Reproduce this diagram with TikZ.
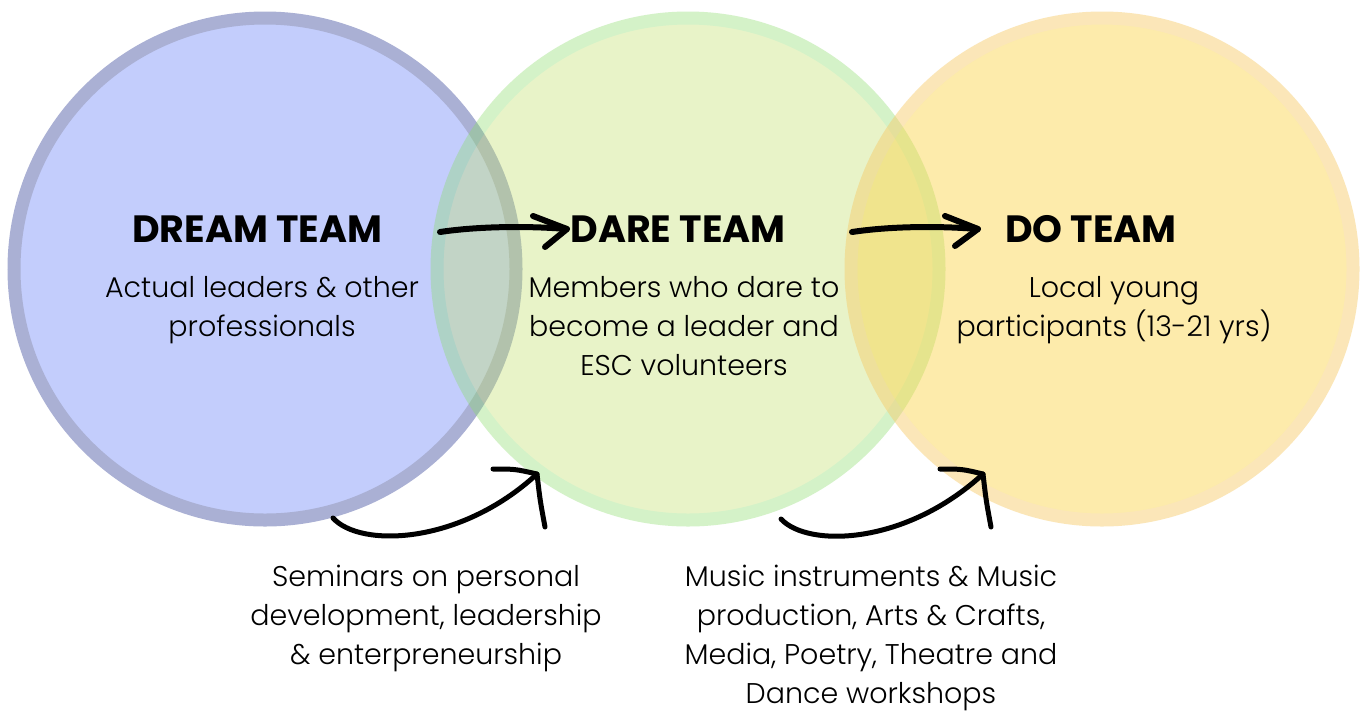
\documentclass[tikz,border=0pt]{standalone}
\usepackage{fontspec}
\setmainfont{Poppins}
\IfFontExistsTF{Poppins Light}{\newfontfamily\bodyfont{Poppins Light}}{\newfontfamily\bodyfont{Poppins}}
\definecolor{cafill}{RGB}{195,205,252}
\definecolor{caline}{RGB}{170,176,212}
\definecolor{cbfill}{RGB}{193,225,106}
\definecolor{cbline}{RGB}{139,220,106}
\definecolor{ccfill}{RGB}{251,212,72}
\definecolor{ccline}{RGB}{247,202,102}
\tikzset{
  teamcircle/.style={circle, inner sep=0pt, minimum size=502pt, line width=13pt},
  headtext/.style={anchor=base, inner sep=0pt, font=\fontsize{38}{40}\selectfont\bfseries},
  bodytext/.style={anchor=base, inner sep=0pt, font=\bodyfont\fontsize{28.5}{39}\selectfont},
  arrowline/.style={line width=6pt, line cap=round, line join=round, black},
  curvearrow/.style={line width=5pt, line cap=round, line join=round, black}
}
\begin{document}
\begin{tikzpicture}[x=1pt, y=-1pt]
\useasboundingbox (0,0) rectangle (1368,713);
\fill[white] (0,0) rectangle (1368,713);
% circles
\node[teamcircle, draw=caline, fill=cafill] (dreamC) at (265,269) {};
\begin{scope}[transparency group, opacity=0.37]
\node[teamcircle, draw=cbline, fill=cbfill] (dareC) at (688,269) {};
\end{scope}
\begin{scope}[transparency group, opacity=0.46]
\node[teamcircle, draw=ccline, fill=ccfill] (doC) at (1102,269) {};
\end{scope}
% headings
\node[headtext] (dreamH) at (257,242) {DREAM TEAM};
\node[headtext] (dareH) at (678,242) {DARE TEAM};
\node[headtext] (doH) at (1091,242) {DO TEAM};
% body texts
\node[bodytext] (dreamB) at (262,297) {\begin{tabular}[t]{@{}c@{}}Actual leaders \& other\\ professionals\end{tabular}};
\node[bodytext] (dareB) at (684,297) {\begin{tabular}[t]{@{}c@{}}Members who dare to\\ become a leader and\\ ESC volunteers\end{tabular}};
\node[bodytext] (doB) at (1114,297) {\begin{tabular}[t]{@{}c@{}}Local young\\ participants (13-21 yrs)\end{tabular}};
\node[bodytext] (seminars) at (426,586) {\begin{tabular}[t]{@{}c@{}}Seminars on personal\\ development, leadership\\ \& enterpreneurship\end{tabular}};
\node[bodytext] (workshops) at (871,586) {\begin{tabular}[t]{@{}c@{}}Music instruments \& Music\\ production, Arts \& Crafts,\\ Media, Poetry, Theatre and\\ Dance workshops\end{tabular}};
% straight arrows
\coordinate (a1s) at (440,232);
\coordinate (a1t) at (567,229);
\coordinate (a1u) at (533,216);
\coordinate (a1d) at (545,247);
\draw[arrowline] (a1s) .. controls (480,226) and (530,226) .. (a1t);
\draw[arrowline] (a1u) -- (a1t) -- (a1d);
\coordinate (a2s) at (852,232);
\coordinate (a2t) at (978,229);
\coordinate (a2u) at (945,216);
\coordinate (a2d) at (955,246);
\draw[arrowline] (a2s) .. controls (892,226) and (940,226) .. (a2t);
\draw[arrowline] (a2u) -- (a2t) -- (a2d);
% curved arrows
\coordinate (a3s) at (333,518);
\coordinate (a3t) at (537,474);
\coordinate (a3l) at (493,469);
\coordinate (a3d) at (545,527);
\draw[curvearrow] (a3s) .. controls (360,548) and (460,545) .. (a3t);
\draw[curvearrow] (a3l) .. controls (515,469) .. (a3t) .. controls (540,500) .. (a3d);
\coordinate (a4s) at (781,519);
\coordinate (a4t) at (983,474);
\coordinate (a4l) at (940,469);
\coordinate (a4d) at (991,527);
\draw[curvearrow] (a4s) .. controls (808,548) and (906,545) .. (a4t);
\draw[curvearrow] (a4l) .. controls (962,469) .. (a4t) .. controls (986,500) .. (a4d);
\end{tikzpicture}
\end{document}
